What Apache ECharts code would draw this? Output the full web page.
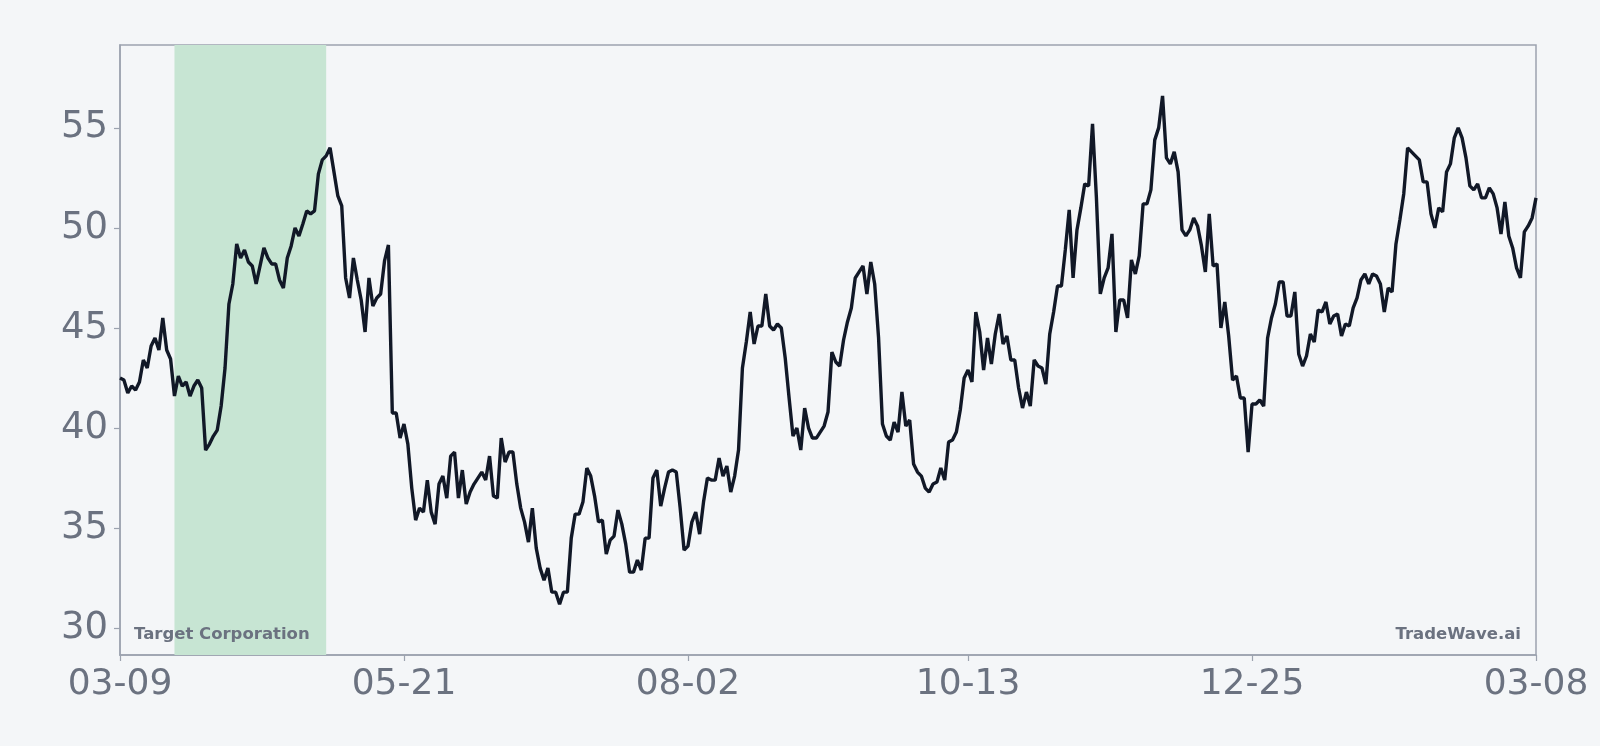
<!DOCTYPE html>
<html>
<head>
<meta charset="utf-8" />
<title>Target Corporation</title>
<script src="https://cdn.jsdelivr.net/npm/echarts@6/dist/echarts.min.js"></script>
<style>
  html, body { margin: 0; padding: 0; background: #f4f6f8; }
  #chart { width: 1600px; height: 746px; }
</style>
</head>
<body>
<div id="chart"></div>
<script>
const palette = {
  bg: "#f4f6f8",
  line: "#111827",
  text: "#6b7280",
  border: "#9ca3af",
  band: "#c7e5d3",
};

// daily closes, 2024-03-09 .. 2025-03-08
const prices = [
  42.5, 42.4, 41.75, 42.1, 41.9, 42.3, 43.4, 43.0, 44.1, 44.5,
  43.9, 45.5, 43.9, 43.45, 41.6, 42.6, 42.1, 42.3, 41.6, 42.1,
  42.4, 42.0, 38.9, 39.2, 39.6, 39.9, 41.1, 43.0, 46.2, 47.2,
  49.2, 48.5, 48.9, 48.3, 48.1, 47.2, 48.1, 49.0, 48.5, 48.2,
  48.2, 47.4, 47.0, 48.5, 49.1, 50.0, 49.6, 50.2, 50.85, 50.7,
  50.85, 52.7, 53.4, 53.6, 54.0, 52.8, 51.6, 51.1, 47.5, 46.5,
  48.5, 47.4, 46.4, 44.8, 47.5, 46.1, 46.5, 46.7, 48.35, 49.15,
  40.75, 40.75, 39.5, 40.2, 39.2, 37.0, 35.4, 36.0, 35.8, 37.4,
  35.8, 35.2, 37.2, 37.6, 36.5, 38.6, 38.8, 36.5, 37.9, 36.2,
  36.8, 37.2, 37.5, 37.8, 37.4, 38.6, 36.6, 36.5, 39.5, 38.3,
  38.8, 38.8, 37.2, 36.0, 35.3, 34.3, 36.0, 34.0, 33.0, 32.4,
  33.0, 31.8, 31.8, 31.2, 31.8, 31.8, 34.5, 35.7, 35.7, 36.3,
  38.0, 37.6, 36.6, 35.3, 35.4, 33.7, 34.4, 34.6, 35.9, 35.2,
  34.2, 32.8, 32.8, 33.4, 32.9, 34.5, 34.5, 37.5, 37.9, 36.1,
  37.0, 37.8, 37.9, 37.8, 36.0, 33.9, 34.1, 35.3, 35.8, 34.7,
  36.3, 37.5, 37.4, 37.4, 38.5, 37.6, 38.1, 36.8, 37.6, 38.9,
  43.0, 44.3, 45.8, 44.2, 45.1, 45.1, 46.7, 45.1, 44.9, 45.2,
  45.0, 43.5, 41.5, 39.6, 40.0, 38.9, 41.0, 40.0, 39.5, 39.5,
  39.8, 40.1, 40.8, 43.8, 43.3, 43.1, 44.4, 45.3, 46.0, 47.5,
  47.8, 48.1, 46.7, 48.3, 47.2, 44.5, 40.2, 39.6, 39.4, 40.3,
  39.8, 41.8, 40.1, 40.4, 38.2, 37.8, 37.6, 37.0, 36.8, 37.2,
  37.3, 38.0, 37.4, 39.3, 39.4, 39.8, 40.9, 42.5, 42.9, 42.3,
  45.8, 44.8, 42.9, 44.5, 43.2, 44.7, 45.7, 44.2, 44.6, 43.4,
  43.4, 42.0, 41.0, 41.8, 41.1, 43.4, 43.1, 43.0, 42.2, 44.7,
  45.8, 47.1, 47.1, 48.9, 50.9, 47.5, 49.9, 51.0, 52.2, 52.1,
  55.2, 51.5, 46.7, 47.5, 48.0, 49.7, 44.8, 46.4, 46.4, 45.5,
  48.4, 47.7, 48.6, 51.2, 51.2, 51.9, 54.4, 55.0, 56.6, 53.5,
  53.2, 53.8, 52.8, 49.9, 49.6, 49.9, 50.5, 50.1, 49.1, 47.8,
  50.7, 48.1, 48.2, 45.0, 46.3, 44.6, 42.4, 42.6, 41.5, 41.5,
  38.8, 41.2, 41.2, 41.4, 41.1, 44.5, 45.5, 46.2, 47.3, 47.3,
  45.6, 45.6, 46.8, 43.7, 43.1, 43.6, 44.7, 44.3, 45.9, 45.8,
  46.3, 45.2, 45.6, 45.7, 44.6, 45.2, 45.1, 46.0, 46.5, 47.4,
  47.7, 47.2, 47.7, 47.6, 47.2, 45.8, 47.0, 46.8, 49.2, 50.4,
  51.7, 54.0, 53.8, 53.6, 53.4, 52.3, 52.3, 50.7, 50.0, 51.0,
  50.8, 52.8, 53.2, 54.5, 55.0, 54.5, 53.5, 52.1, 51.9, 52.2,
  51.5, 51.5, 52.0, 51.7, 51.0, 49.7, 51.3, 49.6, 49.0, 48.0,
  47.5, 49.8, 50.1, 50.5, 51.5,
];

const startDate = "2024-03-09";
const tickIndex = [0, 73, 146, 218, 291, 364];
const highlight = ["2024-03-23", "2024-05-01"];
const company = "Target Corporation";
const brand = "TradeWave.ai";

function buildDates(start, count) {
  const out = [];
  const d = new Date(start + "T00:00:00Z");
  for (let i = 0; i < count; i++) {
    out.push(d.toISOString().slice(0, 10));
    d.setUTCDate(d.getUTCDate() + 1);
  }
  return out;
}

const dates = buildDates(startDate, prices.length);

const chart = echarts.init(document.getElementById("chart"), null, { renderer: "canvas" });

chart.setOption({
  backgroundColor: palette.bg,
  animation: false,
  grid: {
    left: 120,
    right: 64,
    top: 45,
    bottom: 91,
    show: true,
    borderColor: palette.border,
    borderWidth: 1.5,
    backgroundColor: "transparent",
  },
  xAxis: {
    type: "category",
    data: dates,
    boundaryGap: false,
    axisLine: { lineStyle: { color: palette.border, width: 1.5 } },
    axisTick: {
      length: 6,
      interval: (i) => tickIndex.includes(i),
      lineStyle: { color: palette.border, width: 1.2 },
    },
    axisLabel: {
      interval: (i) => tickIndex.includes(i),
      formatter: (v) => v.slice(5),
      color: palette.text,
      fontFamily: "DejaVu Sans",
      fontSize: 36,
      margin: 12,
      showMinLabel: true,
      showMaxLabel: true,
    },
    splitLine: { show: false },
  },
  yAxis: {
    type: "value",
    min: (v) => v.min - (v.max - v.min) * 0.1,
    max: (v) => v.max + (v.max - v.min) * 0.1,
    splitNumber: 6,
    axisLine: { show: true, lineStyle: { color: palette.border, width: 1.5 } },
    axisTick: { show: true, length: 6, lineStyle: { color: palette.border, width: 1.2 } },
    axisLabel: {
      color: palette.text,
      fontFamily: "DejaVu Sans",
      fontSize: 37,
      margin: 12,
      showMinLabel: false,
      showMaxLabel: false,
    },
    splitLine: { show: false },
  },
  series: [
    {
      type: "line",
      data: prices,
      showSymbol: false,
      symbol: "none",
      lineStyle: { color: palette.line, width: 3.4 },
      z: 3,
      markArea: {
        silent: true,
        itemStyle: { color: palette.band },
        data: [[{ xAxis: highlight[0] }, { xAxis: highlight[1] }]],
      },
    },
  ],
  graphic: [
    {
      type: "text",
      left: 134,
      top: 626,
      style: {
        text: company,
        fill: palette.text,
        font: "bold 16.5px 'DejaVu Sans'",
      },
      z: 10,
    },
    {
      type: "text",
      right: 79,
      top: 626,
      style: {
        text: brand,
        fill: palette.text,
        font: "bold 16.5px 'DejaVu Sans'",
      },
      z: 10,
    },
  ],
});
</script>
</body>
</html>
